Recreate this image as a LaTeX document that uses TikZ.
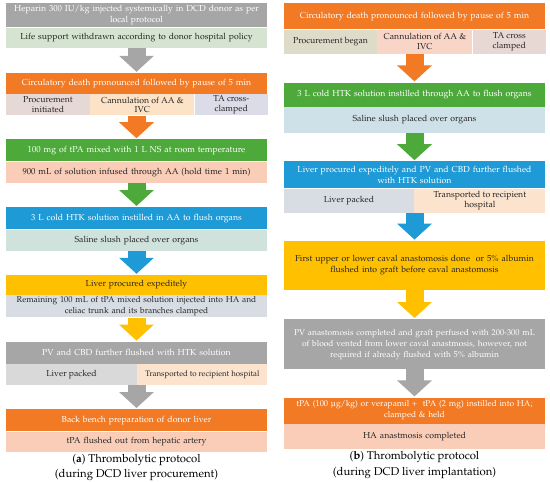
\documentclass[tikz,border=0pt]{standalone}
\usepackage[T1]{fontenc}
\usepackage{mathpazo}
\usepackage{xcolor}
\usepackage{tikz}
\usetikzlibrary{arrows.meta}
\usetikzlibrary{positioning}

\definecolor{boxgray}{HTML}{A6A6A6}
\definecolor{boxorange}{HTML}{F27A24}
\definecolor{boxgreen}{HTML}{4DAA3A}
\definecolor{boxblue}{HTML}{1E9AD6}
\definecolor{boxamber}{HTML}{FFC000}
\definecolor{salmon}{HTML}{F9CDB8}
\definecolor{palegreen}{HTML}{D5E4D0}
\definecolor{paleteal}{HTML}{CFE2DC}
\definecolor{paleslate}{HTML}{D7DDE3}
\definecolor{palegray}{HTML}{D9D9D9}
\definecolor{palepeach}{HTML}{FCE3CE}
\definecolor{paleplum}{HTML}{E6D9D5}
\definecolor{palecream}{HTML}{FCE2C6}
\definecolor{palelilac}{HTML}{DCDBE8}
\definecolor{palekhaki}{HTML}{DEDCC9}
\definecolor{palepink}{HTML}{F9D5C7}
\definecolor{palerose}{HTML}{E8D8D4}
\definecolor{paleblue}{HTML}{CFE1E8}
\definecolor{inktext}{HTML}{262626}

\newcommand{\boxtext}{\fontsize{8.7}{11}\selectfont}
\newcommand{\smalltext}{\fontsize{8.4}{11}\selectfont}
\newcommand{\celltext}{\fontsize{8.7}{9.8}\selectfont}
\newcommand{\captext}{\fontsize{11.3}{15.5}\selectfont}

\begin{document}
\begin{tikzpicture}[x=1pt, y=1pt, >={Triangle[width=34pt,length=16pt]}, node distance=0pt]
	\tikzstyle{box}=[rectangle, inner sep=0pt, minimum width=261pt, text width=255pt, align=center, font=\boxtext, text=inktext]
	\tikzstyle{cell}=[rectangle, inner sep=0pt, align=center, font=\celltext, text=inktext]
	\tikzstyle{flow}=[->, line width=18pt, shorten >=1pt]
	\tikzstyle{caption}=[inner sep=0pt, align=center, font=\captext, text=black]
	\useasboundingbox (0,0) rectangle (550,-482);

	% (a) procurement
	\node[box,fill=boxgray,text=white,minimum height=24pt,anchor=north] (l1) at (136.5,-3) {Heparin 300 IU/kg injected systemically in DCD donor as per\\local protocol};
	\node[box,fill=palegreen,minimum height=20pt] (l2) [below=of l1] {Life support withdrawn according to donor hospital policy};
	\node[box,fill=boxorange,text=white,minimum height=21pt] (l3) [below=25pt of l2] {Circulatory death pronounced followed by pause of 5 min};
	\node[cell,fill=paleplum,minimum width=84pt,minimum height=21pt,anchor=north west] (l4a) at (l3.south west) {Procurement\\initiated};
	\node[cell,fill=palecream,minimum width=104pt,minimum height=21pt] (l4b) [right=of l4a] {Cannulation of AA \&\\IVC};
	\node[cell,fill=palelilac,minimum width=73pt,minimum height=21pt] (l4c) [right=of l4b] {TA cross-\\clamped};
	\node[box,fill=boxgreen,text=white,minimum height=22pt] (l5) [below=45pt of l3] {100 mg of tPA mixed with 1 L NS at room temperature};
	\node[box,fill=salmon,minimum height=21pt] (l6) [below=of l5] {900 mL of solution infused through AA (hold time 1 min)};
	\node[box,fill=boxblue,text=white,minimum height=22pt] (l7) [below=24pt of l6] {3 L cold HTK solution instilled in AA to flush organs};
	\node[box,fill=paleteal,minimum height=21pt] (l8) [below=of l7] {Saline slush placed over organs};
	\node[box,fill=boxamber,minimum height=20pt] (l9) [below=24pt of l8] {Liver procured expeditely};
	\node[box,fill=paleslate,minimum height=22pt,font=\smalltext] (l10) [below=of l9] {Remaining 100 mL of tPA mixed solution injected into HA and\\celiac trunk and its branches clamped};
	\node[box,fill=boxgray,text=white,minimum height=22pt] (l11) [below=24pt of l10] {PV and CBD further flushed with HTK solution};
	\node[cell,fill=palegray,minimum width=131pt,minimum height=21pt,anchor=north west] (l12a) at (l11.south west) {Liver packed};
	\node[cell,fill=palepeach,minimum width=130pt,minimum height=21pt,font=\fontsize{7.9}{9.8}\selectfont] (l12b) [right=of l12a] {Transported to recipient hospital};
	\node[box,fill=boxorange,text=white,minimum height=22pt] (l13) [below=45pt of l11] {Back bench preparation of donor liver};
	\node[box,fill=salmon,minimum height=20pt] (l14) [below=of l13] {tPA flushed out from hepatic artery};
	\node[caption] (capa) [below=2pt of l14] {(\textbf{a}) Thrombolytic protocol\\(during DCD liver procurement)};

	% (b) implantation
	\node[box,fill=boxorange,text=white,minimum height=26pt,anchor=north] (r1) at (414.5,-3) {Circulatory death pronounced followed by pause of 5 min};
	\node[cell,fill=palekhaki,minimum width=93pt,minimum height=24pt,anchor=north west] (r2a) at (r1.south west) {Procurement began};
	\node[cell,fill=palepink,minimum width=95pt,minimum height=24pt] (r2b) [right=of r2a] {Cannulation of AA \&\\IVC};
	\node[cell,fill=palerose,minimum width=73pt,minimum height=24pt] (r2c) [right=of r2b] {TA cross\\clamped};
	\node[box,fill=boxgreen,text=white,minimum height=24pt] (r3) [below=53pt of r1] {3 L cold HTK solution instilled through AA to flush organs};
	\node[box,fill=paleblue,minimum height=26pt] (r4) [below=of r3] {Saline slush placed over organs};
	\node[box,fill=boxblue,text=white,minimum height=27pt] (r5) [below=28pt of r4] {Liver procured expeditely and PV and CBD further flushed\\with HTK solution};
	\node[cell,fill=paleslate,minimum width=130pt,minimum height=24pt,anchor=north west] (r6a) at (r5.south west) {Liver packed};
	\node[cell,fill=palepeach,minimum width=131pt,minimum height=24pt] (r6b) [right=of r6a] {Transported to recipient\\hospital};
	\node[box,fill=boxamber,minimum height=49pt] (r7) [below=52pt of r5] {First upper or lower caval anastomosis done\ \ or 5\% albumin\\flushed into graft before caval anastomosis};
	\node[box,fill=boxgray,text=white,minimum height=50pt,font=\smalltext] (r8) [below=29pt of r7] {PV anastomosis completed and graft perfused with 200-300 mL\\of blood vented from lower caval anastmosis, however, not\\required if already flushed with 5\% albumin};
	\node[box,fill=boxorange,text=white,minimum height=26pt,font=\smalltext] (r9) [below=28pt of r8] {tPA (100 \textmu g/kg) or verapamil +\ \ tPA (2 mg) instilled into HA;\\clamped \& held};
	\node[box,fill=salmon,minimum height=25pt] (r10) [below=of r9] {HA anastmosis completed};
	\node[caption] (capb) [below=2pt of r10] {(\textbf{b}) Thrombolytic protocol\\(during DCD liver implantation)};

	\path[flow]
		(l2) edge[boxgray] (l3)
		(l3.south |- l4b.south) edge[boxorange] (l5)
		(l6) edge[boxgreen] (l7)
		(l8) edge[boxblue] (l9)
		(l10) edge[boxamber] (l11)
		(l11.south |- l12a.south) edge[boxgray] (l13)

		(r1.south |- r2b.south) edge[boxorange] (r3)
		(r4) edge[boxgreen] (r5)
		(r5.south |- r6a.south) edge[boxblue] (r7)
		(r7) edge[boxamber] (r8)
		(r8) edge[boxgray] (r9);
\end{tikzpicture}
\end{document}
